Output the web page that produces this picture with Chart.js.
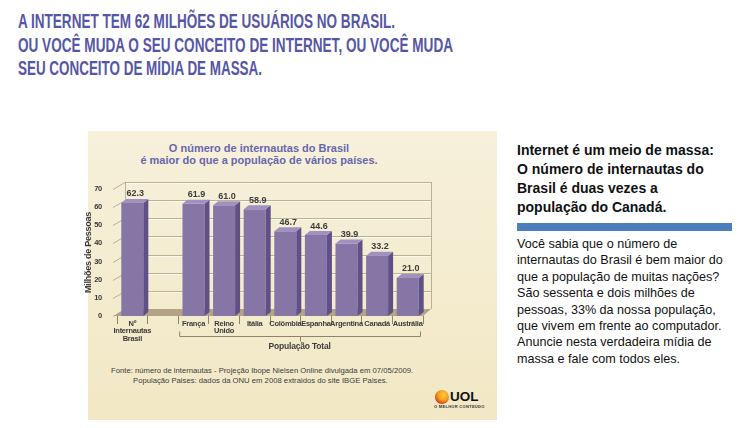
<!DOCTYPE html>
<html><head><meta charset="utf-8">
<script src="https://cdn.jsdelivr.net/npm/chart.js@4"></script>
<style>
body{margin:0;width:738px;height:428px;background:#fff;overflow:hidden;position:relative;font-family:"Liberation Sans",Arial,sans-serif;}
#panel{position:absolute;left:88px;top:131px;width:409px;height:289px;background:linear-gradient(#f7f0db,#f2e8c5);}
#c{position:absolute;left:0;top:0;}
.t{position:absolute;white-space:nowrap;}
.head{left:18px;font-weight:bold;font-size:20px;line-height:23px;color:#5656a6;transform-origin:0 50%;}
.ct{left:88px;width:342px;text-align:center;font-weight:bold;font-size:11px;line-height:11.5px;color:#6767ad;}
.src{font-size:7.7px;color:#3c3c3c;line-height:10px;}
.rh{left:517px;top:141px;font-weight:bold;font-size:14px;line-height:19px;color:#111;}
.rb{left:517px;top:236px;font-size:12.6px;line-height:16.4px;color:#111;}
#bluebar{position:absolute;left:517px;top:223px;width:215px;height:8px;background:#4d7dbd;}
#logo{position:absolute;left:435px;top:390px;width:14px;height:14px;border-radius:50%;background:radial-gradient(circle at 60% 35%,#ffd23a 0,#f39a1a 45%,#d2261a 80%,#7a1410 100%);}
</style></head>
<body>
<div id="panel"></div>
<div class="t head" id="h1" style="top:10px">A INTERNET TEM 62 MILHÕES DE USUÁRIOS NO BRASIL.</div>
<div class="t head" id="h2" style="top:34px">OU VOCÊ MUDA O SEU CONCEITO DE INTERNET, OU VOCÊ MUDA</div>
<div class="t head" id="h3" style="top:57px">SEU CONCEITO DE MÍDIA DE MASSA.</div>
<div class="t ct" style="top:143px">O número de internautas do Brasil<br>é maior do que a população de vários países.</div>
<div class="t src" style="left:111px;top:366px">Fonte: número de internautas - Projeção Ibope Nielsen Online divulgada em 07/05/2009.</div>
<div class="t src" style="left:133px;top:376px">População Paises: dados da ONU em 2008 extraidos do site IBGE Paises.</div>
<div id="logo"></div>
<div class="t" style="left:450px;top:389px;font-weight:bold;font-size:13.5px;line-height:16px;color:#111;">UOL</div>
<div class="t" style="left:434px;top:404px;font-weight:bold;font-size:4px;line-height:5px;color:#333;letter-spacing:0.3px;">O MELHOR CONTEÚDO</div>
<div class="t rh">Internet é um meio de massa:<br>O número de internautas do<br>Brasil é duas vezes a<br>população do Canadá.</div>
<div id="bluebar"></div>
<div class="t rb">Você sabia que o número de<br>internautas do Brasil é bem maior do<br>que a população de muitas nações?<br>São sessenta e dois milhões de<br>pessoas, 33% da nossa população,<br>que vivem em frente ao computador.<br>Anuncie nesta verdadeira mídia de<br>massa e fale com todos eles.</div>
<canvas id="c" width="738" height="428"></canvas>
<script>
const categories = [["Nº","Internautas","Brasil"], "", "França", ["Reino","Unido"], "Itália", "Colômbia", "Espanha", "Argentina", "Canadá", "Austrália"];
const values = [62.3, null, 61.9, 61.0, 58.9, 46.7, 44.6, 39.9, 33.2, 21.0];
const valueLabels = ["62.3", "", "61.9", "61.0", "58.9", "46.7", "44.6", "39.9", "33.2", "21.0"];
const yTicks = [0, 10, 20, 30, 40, 50, 60, 70];
const groupLabel = "População Total";
const groupFrom = 2, groupTo = 9;

const headWidths = {h1: 377, h2: 435, h3: 244};
for (const id in headWidths) {
  const el = document.getElementById(id);
  const w = el.getBoundingClientRect().width;
  el.style.transform = 'scaleX(' + (headWidths[id] / w) + ')';
}

const FAM = '"Liberation Sans", Arial, sans-serif';
const DX = 8, DY = 7;      // back wall depth
const BX = 5, BY = 4;      // bar depth
const HX = 40;

const threeD = {
  id: 'threeD',
  beforeDraw(chart) {
    chart.ctx.letterSpacing = '-0.25px';
  },
  beforeDatasetsDraw(chart) {
    const ctx = chart.ctx, ys = chart.scales.y, a = chart.chartArea;
    ctx.letterSpacing = '0px';
    ctx.save();
    const y0 = ys.getPixelForValue(0);
    ctx.fillStyle = '#b4a486';
    ctx.beginPath();
    ctx.moveTo(a.left - 3, y0); ctx.lineTo(a.right, y0);
    ctx.lineTo(a.right + DX, y0 - DY); ctx.lineTo(a.left + DX, y0 - DY);
    ctx.closePath(); ctx.fill();
    ctx.lineWidth = 1;
    yTicks.forEach(v => {
      const y = Math.round(ys.getPixelForValue(v)) - DY + 0.5;
      if (v > 0) {
        ctx.strokeStyle = 'rgba(255,255,255,0.6)';
        ctx.beginPath(); ctx.moveTo(a.left + DX, y + 1); ctx.lineTo(a.right + DX, y + 1); ctx.stroke();
        ctx.strokeStyle = 'rgba(150,138,105,0.6)';
        ctx.beginPath(); ctx.moveTo(a.left + DX, y); ctx.lineTo(a.right + DX, y); ctx.stroke();
      }
      ctx.strokeStyle = 'rgba(150,138,105,0.6)';
      ctx.beginPath(); ctx.moveTo(a.left - 4, y + DY); ctx.lineTo(a.left + DX, y); ctx.stroke();
    });
    const yt = Math.round(ys.getPixelForValue(70)) - DY;
    ctx.beginPath();
    ctx.moveTo(a.left + DX + 0.5, yt); ctx.lineTo(a.left + DX + 0.5, y0 - DY);
    ctx.moveTo(a.right + DX + 0.5, yt); ctx.lineTo(a.right + DX + 0.5, y0 - DY);
    ctx.stroke();
    ctx.restore();
  },
  afterDatasetsDraw(chart) {
    const ctx = chart.ctx, meta = chart.getDatasetMeta(0), xs = chart.scales.x;
    ctx.save();
    meta.data.forEach((bar, i) => {
      if (values[i] === null) return;
      const p = bar.getProps(['x', 'y', 'base', 'width'], true);
      const l = p.x - p.width / 2, r = p.x + p.width / 2;
      ctx.fillStyle = '#5f5088';
      ctx.beginPath();
      ctx.moveTo(r, p.y); ctx.lineTo(r + BX, p.y - BY); ctx.lineTo(r + BX, p.base - BY); ctx.lineTo(r, p.base);
      ctx.closePath(); ctx.fill();
      ctx.fillStyle = '#a092c0';
      ctx.beginPath();
      ctx.moveTo(l, p.y); ctx.lineTo(r, p.y); ctx.lineTo(r + BX, p.y - BY); ctx.lineTo(l + BX, p.y - BY);
      ctx.closePath(); ctx.fill();
      ctx.fillStyle = '#3d3d3d';
      ctx.font = 'bold 9px ' + FAM;
      ctx.textAlign = 'center'; ctx.textBaseline = 'middle';
      ctx.fillText(valueLabels[i], p.x + 3, p.y - 9);
    });
    const half = (xs.getPixelForValue(1) - xs.getPixelForValue(0)) / 2;
    const bl = xs.getPixelForValue(groupFrom) - half + 1, br = xs.getPixelForValue(groupTo) + half - 3;
    const by = 336.5, bc = (bl + br) / 2;
    ctx.strokeStyle = '#8e846a'; ctx.lineWidth = 1;
    ctx.beginPath();
    ctx.moveTo(bl + 0.5, by - 5); ctx.lineTo(bl + 0.5, by); ctx.lineTo(br + 0.5, by); ctx.lineTo(br + 0.5, by - 5);
    ctx.moveTo(Math.round(bc) + 0.5, by); ctx.lineTo(Math.round(bc) + 0.5, by + 5);
    ctx.stroke();
    ctx.fillStyle = '#3d3d3d';
    ctx.letterSpacing = '-0.2px';
    ctx.font = 'bold 8.5px ' + FAM;
    ctx.textAlign = 'center'; ctx.textBaseline = 'middle';
    ctx.fillText(groupLabel, bc, 347);
    ctx.letterSpacing = '0px';
    ctx.restore();
  }
};

new Chart(document.getElementById('c'), {
  type: 'bar',
  data: { labels: categories, datasets: [{ data: values, backgroundColor: '#8676a6', borderWidth: 0, barPercentage: 0.72, categoryPercentage: 1 }] },
  options: {
    responsive: false, animation: false,
    layout: { padding: { left: 81, top: 189, right: 315, bottom: 428 - 316 - HX } },
    plugins: { legend: { display: false }, tooltip: { enabled: false } },
    scales: {
      x: {
        offset: true,
        grid: { offset: true, drawOnChartArea: false, drawTicks: true, tickLength: 8, color: '#8e846a' },
        border: { display: false },
        ticks: { font: { size: 7.5, weight: 'bold', family: FAM, lineHeight: 1 }, color: '#3a3a3a', padding: -4, maxRotation: 0, autoSkip: false },
        afterFit: s => { s.height = HX; }
      },
      y: {
        min: 0, max: 70,
        afterBuildTicks: s => { s.ticks = yTicks.map(v => ({ value: v })); },
        ticks: { font: { size: 7.5, weight: 'bold', family: FAM }, color: '#3a3a3a', padding: 7 },
        grid: { display: false },
        border: { display: false },
        title: { display: true, text: 'Milhões de Pessoas', font: { size: 9, weight: 'bold', family: FAM }, color: '#3a3a3a', padding: { top: 2, bottom: 0 } },
        afterFit: s => { s.width = 36; }
      }
    }
  },
  plugins: [threeD]
});
</script>
</body></html>
